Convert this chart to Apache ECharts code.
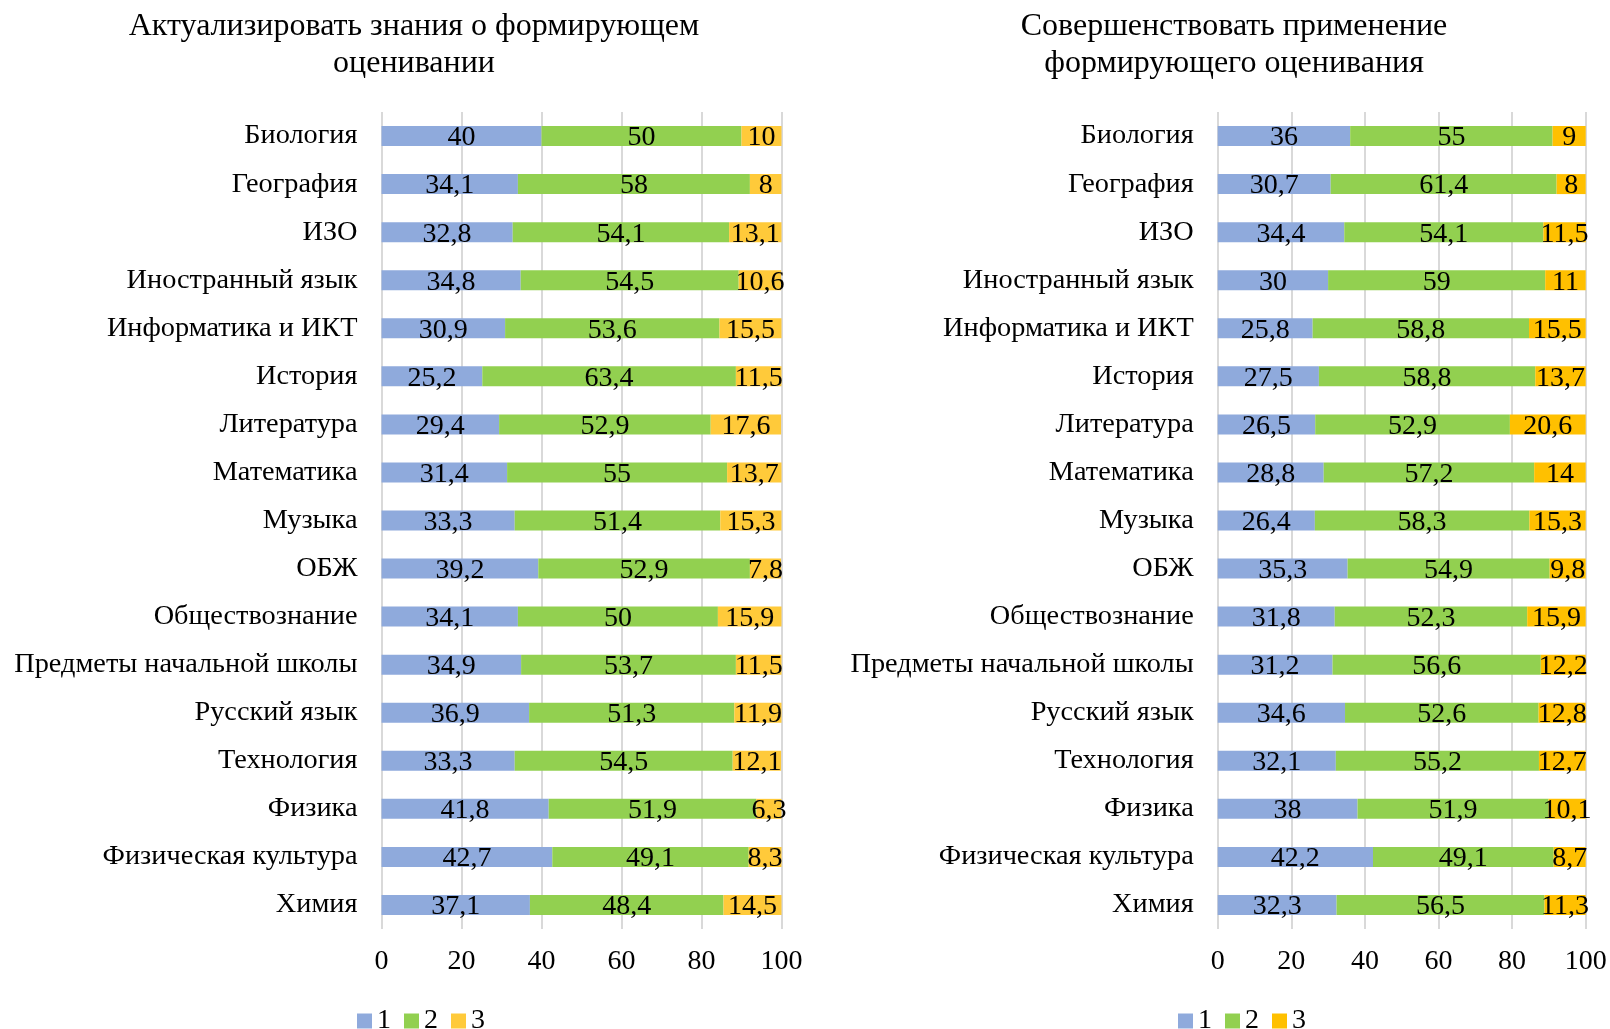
<!DOCTYPE html>
<html>
<head>
<meta charset="utf-8">
<script src="https://cdn.jsdelivr.net/npm/echarts@6/dist/echarts.min.js"></script>
<style>
html,body{margin:0;padding:0;background:#fff;}
#chart{width:1610px;height:1029px;}
</style>
</head>
<body>
<div id="chart"></div>
<script>
const categories = ['Биология','География','ИЗО','Иностранный язык','Информатика и ИКТ','История','Литература','Математика','Музыка','ОБЖ','Обществознание','Предметы начальной школы','Русский язык','Технология','Физика','Физическая культура','Химия'];
const seriesNames = ['1','2','3'];
const titleLeft = 'Актуализировать знания о формирующем\nоценивании';
const titleRight = 'Совершенствовать применение\nформирующего оценивания';
const left1 = [40,34.1,32.8,34.8,30.9,25.2,29.4,31.4,33.3,39.2,34.1,34.9,36.9,33.3,41.8,42.7,37.1];
const left2 = [50,58,54.1,54.5,53.6,63.4,52.9,55,51.4,52.9,50,53.7,51.3,54.5,51.9,49.1,48.4];
const left3 = [10,8,13.1,10.6,15.5,11.5,17.6,13.7,15.3,7.8,15.9,11.5,11.9,12.1,6.3,8.3,14.5];
const right1 = [36,30.7,34.4,30,25.8,27.5,26.5,28.8,26.4,35.3,31.8,31.2,34.6,32.1,38,42.2,32.3];
const right2 = [55,61.4,54.1,59,58.8,58.8,52.9,57.2,58.3,54.9,52.3,56.6,52.6,55.2,51.9,49.1,56.5];
const right3 = [9,8,11.5,11,15.5,13.7,20.6,14,15.3,9.8,15.9,12.2,12.8,12.7,10.1,8.7,11.3];
const xTicks = [0,20,40,60,80,100];

const FONT = '"Liberation Serif","Times New Roman",serif';
const cBlue = '#8FAADC', cGreen = '#92D050', cYellowL = '#FFCA3A', cYellowR = '#FFC000';

const chart = echarts.init(document.getElementById('chart'), null, {renderer:'canvas'});
function fmt(p){ return String(p.value).replace('.', ','); }
function mkSeries(name, data, color, idx){
  return {
    type:'bar', name:name, stack:'s'+idx, data:data,
    xAxisIndex:idx, yAxisIndex:idx, barWidth:20,
    itemStyle:{color:color},
    label:{show:true, position:'inside', color:'#000', fontFamily:FONT, fontSize:28, offset:[0,2], formatter:fmt},
    emphasis:{disabled:true}, animation:false
  };
}
function xAx(idx){
  return {type:'value', gridIndex:idx, min:0, max:100, interval:20,
    axisLine:{show:false}, axisTick:{show:false},
    splitLine:{show:true, lineStyle:{color:'#D9D9D9', width:2}},
    axisLabel:{color:'#000', fontFamily:FONT, fontSize:28, margin:19,
      formatter:function(v){return xTicks.indexOf(v)>=0 ? String(v) : '';}}};
}
function yAx(idx){
  return {type:'category', gridIndex:idx, data:categories, inverse:true,
    axisLine:{show:false}, axisTick:{show:false},
    axisLabel:{color:'#000', fontFamily:FONT, fontSize:28.3, margin:24, padding:[6,0,0,0]}};
}
const legendText = {color:'#000', fontFamily:FONT, fontSize:28};
chart.setOption({
  backgroundColor:'#fff',
  animation:false,
  title:[
    {text:titleLeft, left:409, top:3, textAlign:'center',
     textStyle:{fontFamily:FONT, fontSize:32, fontWeight:'normal', color:'#000', lineHeight:37}},
    {text:titleRight, left:1229, top:3, textAlign:'center',
     textStyle:{fontFamily:FONT, fontSize:32, fontWeight:'normal', color:'#000', lineHeight:37}}
  ],
  grid:[
    {left:381.5, width:400, top:112, height:817},
    {left:1217.7, width:368, top:112, height:817}
  ],
  xAxis:[xAx(0), xAx(1)],
  yAxis:[yAx(0), yAx(1)],
  legend:[
    {left:352, top:1002, itemWidth:15, itemHeight:15, itemGap:13, icon:'rect', textStyle:legendText,
     data:[{name:'1'},{name:'2'},{name:'3', itemStyle:{color:cYellowL}}], selectedMode:false},
    {left:1173, top:1002, itemWidth:15, itemHeight:15, itemGap:13, icon:'rect', textStyle:legendText,
     data:[{name:'1'},{name:'2'},{name:'3', itemStyle:{color:cYellowR}}], selectedMode:false}
  ],
  series:[
    mkSeries(seriesNames[0], left1, cBlue, 0),
    mkSeries(seriesNames[1], left2, cGreen, 0),
    mkSeries(seriesNames[2], left3, cYellowL, 0),
    mkSeries(seriesNames[0], right1, cBlue, 1),
    mkSeries(seriesNames[1], right2, cGreen, 1),
    mkSeries(seriesNames[2], right3, cYellowR, 1)
  ]
});
</script>
</body>
</html>
